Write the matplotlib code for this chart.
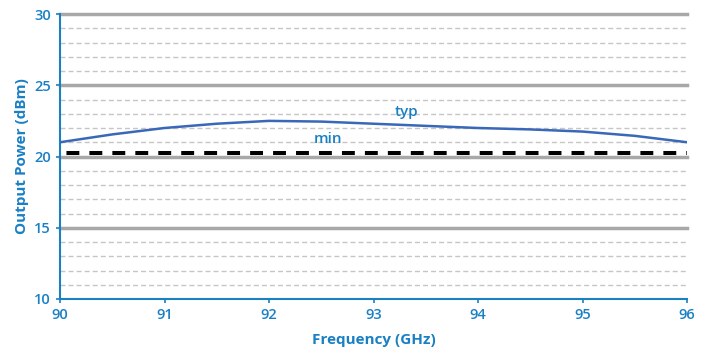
import matplotlib.pyplot as plt
import numpy as np

freq_ghz = [90, 90.5, 91, 91.5, 92, 92.5, 93, 93.5, 94, 94.5, 95, 95.5, 96]
typ_dbm = [21.0, 21.55, 22.0, 22.3, 22.5, 22.45, 22.3, 22.15, 22.0, 21.9, 21.75, 21.45, 21.0]
min_dbm = 20.22

blue_text = "#1a80c4"
line_blue = "#3a68b8"

plt.rcParams["font.family"] = ["Open Sans", "DejaVu Sans"]

fig = plt.figure(figsize=(7.12, 3.47), dpi=100)
ax = fig.add_axes([60 / 712, 48 / 347, 627 / 712, 285 / 347])

ax.set_xlim(90, 96)
ax.set_ylim(10, 30)

# grid: solid every 5 dB, dashed every 1 dB
for y in np.arange(11, 30):
    if y % 5 == 0:
        continue
    ax.axhline(y, color="#c6c6c6", lw=1.0, ls=(0, (3.6, 2.2)), zorder=1)
for y in [15, 20, 25, 30]:
    ax.axhline(y, color="#a8a8a8", lw=2.5, zorder=1, clip_on=False)

ax.axhline(min_dbm, color="black", lw=2.9, ls=(4.1, (3.2, 2.5)), zorder=3)
ax.plot(freq_ghz, typ_dbm, color=line_blue, lw=1.8, zorder=4)

ax.text(93.32, 22.84, "typ", color=blue_text, fontsize=11, fontweight="semibold",
        ha="center", va="baseline")
ax.text(92.56, 20.95, "min", color=blue_text, fontsize=11, fontweight="semibold",
        ha="center", va="baseline")

ax.set_xticks(range(90, 97))
ax.set_yticks([10, 15, 20, 25, 30])
ax.tick_params(colors=blue_text, labelcolor=blue_text, labelsize=10.5,
               length=3, width=1.2, direction="out")
for lbl in ax.get_xticklabels() + ax.get_yticklabels():
    lbl.set_fontweight("semibold")

for side in ["top", "right"]:
    ax.spines[side].set_visible(False)
for side in ["left", "bottom"]:
    ax.spines[side].set_color(blue_text)
    ax.spines[side].set_linewidth(1.5)

ax.set_xlabel("Frequency (GHz)", color=blue_text, fontsize=11, fontweight="bold",
              labelpad=8)
ax.set_ylabel("Output Power (dBm)", color=blue_text, fontsize=11, fontweight="bold")

fig.savefig("out.png", dpi=100)
